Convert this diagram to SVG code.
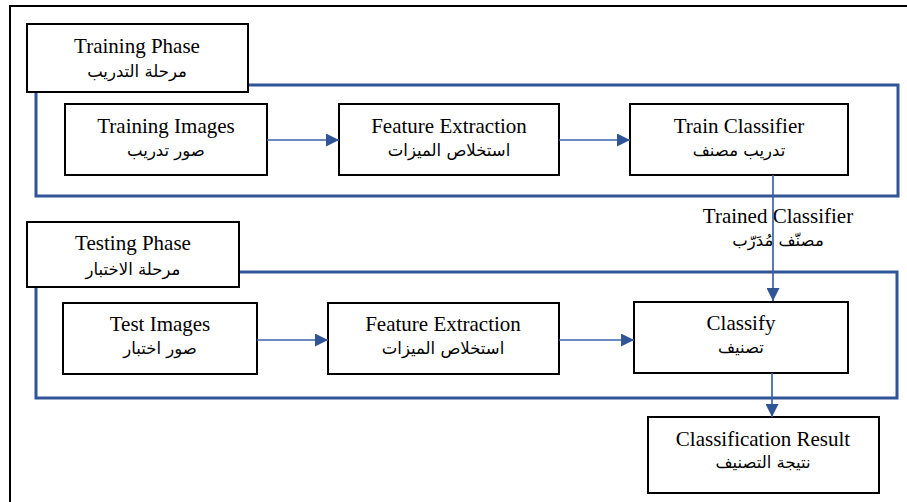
<svg xmlns="http://www.w3.org/2000/svg" width="907" height="502" viewBox="0 0 907 502">
<style>
.box{fill:#fff;stroke:#000;stroke-width:2}
.frame{fill:none;stroke:#2F5597;stroke-width:3}
.en{font-family:"Liberation Serif","Times New Roman",serif;font-size:21px;fill:#000;text-anchor:middle}
.ar{font-family:"DejaVu Sans","Noto Sans",sans-serif;font-size:16.5px;fill:#000;text-anchor:middle}
.conn{fill:none;stroke:#3A62A8;stroke-width:1.7}
</style>
<defs>
<marker id="arr" viewBox="0 0 10 10" refX="10" refY="5" markerWidth="13" markerHeight="13" markerUnits="userSpaceOnUse" orient="auto">
<path d="M0,0 L10,5 L0,10 z" fill="#2F5597"/>
</marker>
</defs>
<rect width="907" height="502" fill="#fff"/>
<path d="M10,502 V6 H907" fill="none" stroke="#000" stroke-width="2"/>

<g id="training-frame"><rect class="frame" x="36" y="85" width="862" height="111"/></g>
<g id="testing-frame"><rect class="frame" x="36" y="272" width="861" height="126"/></g>

<g id="training-phase">
<rect class="box" x="27" y="24" width="221" height="68"/>
<text class="en" x="137" y="53">Training Phase</text>
<text class="ar" x="137" y="77">مرحلة التدريب</text>
</g>
<g id="training-images">
<rect class="box" x="65" y="104" width="202" height="71"/>
<text class="en" x="166" y="133">Training Images</text>
<text class="ar" x="166" y="156">صور تدريب</text>
</g>
<g id="feature-extraction-train">
<rect class="box" x="339" y="104" width="220" height="71"/>
<text class="en" x="449" y="133">Feature Extraction</text>
<text class="ar" x="449" y="156">استخلاص الميزات</text>
</g>
<g id="train-classifier">
<rect class="box" x="630" y="104" width="218" height="71"/>
<text class="en" x="739" y="133">Train Classifier</text>
<text class="ar" x="739" y="156">تدريب مصنف</text>
</g>
<g id="trained-classifier-label">
<text class="en" x="778" y="223">Trained Classifier</text>
<text class="ar" x="778" y="246">مصنّف مُدَرّب</text>
</g>
<g id="testing-phase">
<rect class="box" x="27" y="222" width="212" height="65"/>
<text class="en" x="133" y="250">Testing Phase</text>
<text class="ar" x="133" y="275">مرحلة الاختبار</text>
</g>
<g id="test-images">
<rect class="box" x="63" y="303" width="194" height="71"/>
<text class="en" x="160" y="331">Test Images</text>
<text class="ar" x="160" y="354">صور اختبار</text>
</g>
<g id="feature-extraction-test">
<rect class="box" x="328" y="303" width="231" height="71"/>
<text class="en" x="443" y="331">Feature Extraction</text>
<text class="ar" x="443" y="354">استخلاص الميزات</text>
</g>
<g id="classify">
<rect class="box" x="634" y="302" width="214" height="71"/>
<text class="en" x="741" y="330">Classify</text>
<text class="ar" x="741" y="353">تصنيف</text>
</g>
<g id="classification-result">
<rect class="box" x="648" y="417" width="231" height="76"/>
<text class="en" x="763" y="446">Classification Result</text>
<text class="ar" x="763" y="468">نتيجة التصنيف</text>
</g>

<g id="connectors">
<line class="conn" x1="267" y1="140" x2="339" y2="140" marker-end="url(#arr)"/>
<line class="conn" x1="559" y1="140" x2="630" y2="140" marker-end="url(#arr)"/>
<line class="conn" x1="773" y1="175" x2="773" y2="301" marker-end="url(#arr)"/>
<line class="conn" x1="257" y1="340" x2="328" y2="340" marker-end="url(#arr)"/>
<line class="conn" x1="559" y1="340" x2="634" y2="340" marker-end="url(#arr)"/>
<line class="conn" x1="772" y1="373" x2="772" y2="417" marker-end="url(#arr)"/>
</g>
</svg>
